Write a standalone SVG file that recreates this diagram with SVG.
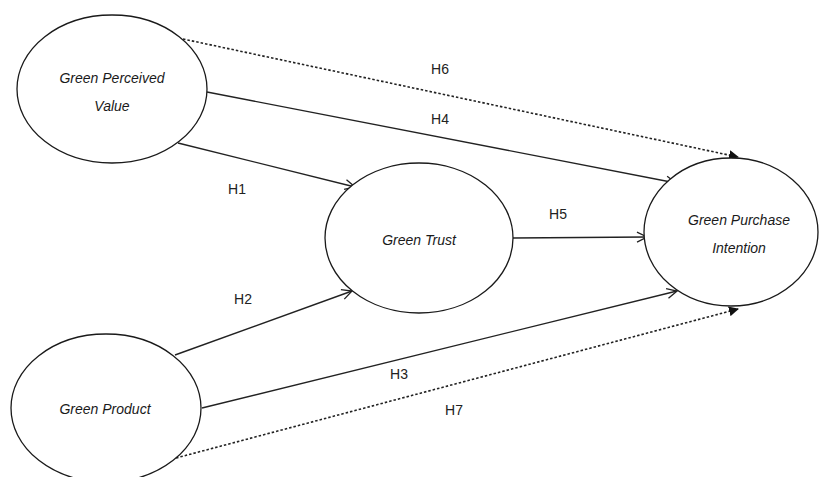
<svg xmlns="http://www.w3.org/2000/svg" width="823" height="477" viewBox="0 0 823 477">
<style>
.node ellipse{fill:#fff;stroke:#1a1a1a;stroke-width:1.3}
.node text{font-family:"Liberation Sans",Arial,sans-serif;font-style:italic;font-size:14px;fill:#1a1a1a;text-anchor:middle}
.conn line{stroke:#222;stroke-width:1.4;fill:none}
.conn line.dot{stroke-dasharray:2.5 2;stroke-width:1.6}
.lbl{font-family:"Liberation Sans",Arial,sans-serif;font-size:14px;fill:#222;text-anchor:middle}
</style>
<defs>
<marker id="open" viewBox="0 0 12 12" refX="11" refY="6" markerWidth="12" markerHeight="12" markerUnits="userSpaceOnUse" orient="auto">
<path d="M1,1 L11,6 L1,11" fill="none" stroke="#222" stroke-width="1.3"/>
</marker>
<marker id="solid" viewBox="0 0 10 10" refX="9" refY="5" markerWidth="10" markerHeight="10" markerUnits="userSpaceOnUse" orient="auto">
<path d="M0,0 L10,5 L0,10 Z" fill="#111"/>
</marker>
</defs>
<rect width="823" height="477" fill="#fff"/>
<g id="connectors" class="conn">
<line class="dot" x1="183" y1="39" x2="738" y2="157" marker-end="url(#solid)"/>
<line x1="207" y1="92" x2="676" y2="183" marker-end="url(#open)"/>
<line x1="178" y1="143" x2="355" y2="187" marker-end="url(#open)"/>
<line x1="513" y1="238" x2="647" y2="237" marker-end="url(#open)"/>
<line x1="175" y1="355" x2="352" y2="291" marker-end="url(#open)"/>
<line x1="202" y1="408" x2="677" y2="291" marker-end="url(#open)"/>
<line class="dot" x1="176" y1="458" x2="738" y2="309" marker-end="url(#solid)"/>
<text class="lbl" x="440" y="74">H6</text>
<text class="lbl" x="440" y="124">H4</text>
<text class="lbl" x="237" y="194">H1</text>
<text class="lbl" x="558" y="219">H5</text>
<text class="lbl" x="243" y="304">H2</text>
<text class="lbl" x="399" y="379">H3</text>
<text class="lbl" x="454" y="415">H7</text>
</g>
<g id="gpv" class="node">
<ellipse cx="112" cy="89" rx="95" ry="74"/>
<text x="112" y="83">Green Perceived</text>
<text x="112" y="111">Value</text>
</g>
<g id="gt" class="node">
<ellipse cx="419" cy="238" rx="94" ry="75"/>
<text x="419" y="245">Green Trust</text>
</g>
<g id="gpi" class="node">
<ellipse cx="731" cy="232" rx="87" ry="74"/>
<text x="739" y="225">Green Purchase</text>
<text x="739" y="253">Intention</text>
</g>
<g id="gp" class="node">
<ellipse cx="106" cy="408" rx="95" ry="74"/>
<text x="105" y="414">Green Product</text>
</g>
</svg>
